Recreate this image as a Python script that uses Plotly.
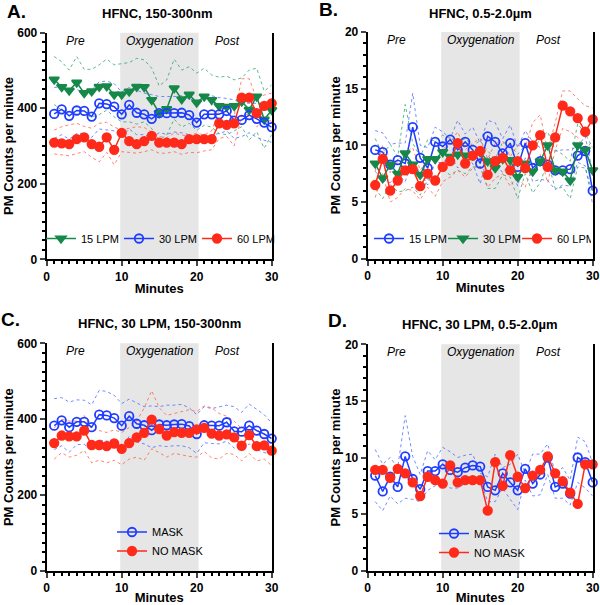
import plotly.graph_objects as go

# minutes sampled
minutes = list(range(1, 31))

# Panel A: HFNC, 150-300nm
a_15_mean = [476, 456, 447, 468, 440, 445, 457, 458, 436, 436, 444, 457, 456, 422, 387,
             398, 453, 424, 436, 415, 431, 422, 406, 404, 406, 418, 396, 431, 370, 395]
a_15_hi = [537, 523, 501, 537, 503, 503, 515, 530, 515, 519, 521, 532, 528, 506, 459,
           475, 530, 501, 510, 493, 506, 488, 482, 485, 475, 480, 501, 506, 445, 462]
a_15_lo = [410, 395, 392, 383, 383, 377, 383, 395, 377, 364, 364, 358, 364, 346, 316,
           329, 371, 350, 360, 341, 355, 350, 333, 330, 340, 351, 316, 338, 294, 330]
a_30_mean = [385, 397, 380, 394, 393, 378, 413, 411, 404, 384, 409, 388, 384, 372, 387,
             387, 387, 388, 382, 362, 384, 384, 384, 393, 367, 369, 382, 372, 362, 350]
a_30_hi = [455, 457, 448, 450, 440, 448, 470, 472, 465, 443, 455, 448, 440, 436, 431,
           431, 431, 433, 426, 418, 435, 433, 428, 426, 422, 415, 413, 413, 410, 404]
a_30_lo = [320, 330, 318, 333, 334, 323, 345, 342, 340, 325, 345, 330, 330, 322, 335,
           331, 337, 335, 330, 310, 326, 330, 333, 340, 320, 325, 335, 323, 315, 310]
a_60_mean = [309, 307, 305, 318, 323, 305, 298, 323, 290, 335, 313, 305, 313, 327, 309,
             309, 309, 305, 318, 318, 318, 318, 360, 356, 360, 428, 428, 387, 406, 413]
a_60_hi = [342, 351, 356, 360, 352, 347, 360, 363, 350, 342, 347, 351, 349, 336, 325,
           322, 334, 329, 327, 334, 329, 340, 395, 380, 380, 478, 478, 425, 435, 440]
a_60_lo = [279, 277, 274, 280, 285, 270, 258, 283, 250, 285, 283, 281, 285, 290, 281,
           281, 285, 278, 283, 282, 287, 290, 320, 325, 300, 380, 385, 350, 375, 365]

# Panel B: HFNC, 0.5-2.0um
b_15_mean = [9.6, 9.4, 8.3, 8.7, 8.4, 11.6, 8.9, 8.0, 10.3, 9.9, 10.5, 9.6, 10.3, 9.6, 8.4,
             10.8, 10.3, 9.3, 10.2, 8.1, 10.2, 8.0, 8.6, 8.3, 7.8, 7.8, 7.9, 9.1, 9.5, 6.0]
b_15_hi = [11.3, 11.1, 10.1, 10.2, 10.2, 14.6, 10.0, 9.8, 11.6, 11.2, 10.6, 12.2, 11.0, 11.6, 10.2,
           12.2, 12.0, 10.6, 11.8, 9.8, 11.3, 10.3, 9.8, 9.8, 9.5, 9.6, 9.6, 9.9, 10.8, 7.6]
b_15_lo = [7.7, 7.0, 6.7, 7.5, 6.8, 8.6, 7.6, 6.5, 8.6, 8.4, 9.2, 8.0, 9.0, 8.4, 6.6,
           9.1, 8.4, 7.6, 8.4, 6.4, 8.9, 6.8, 7.0, 6.9, 6.1, 6.5, 6.4, 8.5, 8.2, 4.8]
b_30_mean = [8.4, 7.1, 8.3, 7.5, 9.3, 8.3, 7.4, 8.8, 8.8, 9.4, 9.0, 9.2, 9.1, 9.1, 9.4,
             8.6, 8.0, 8.8, 8.7, 7.2, 8.4, 7.7, 8.6, 10.0, 7.8, 7.7, 6.9, 10.0, 9.6, 7.8]
b_30_hi = [10.6, 9.2, 10.1, 9.0, 13.6, 10.2, 9.0, 10.5, 10.4, 10.9, 10.6, 10.2, 10.6, 10.0, 10.4,
           9.5, 8.8, 10.3, 10.0, 9.2, 10.0, 9.5, 10.6, 11.2, 9.6, 9.2, 8.6, 11.9, 11.0, 9.8]
b_30_lo = [6.2, 5.3, 6.6, 5.9, 6.0, 6.3, 5.6, 7.0, 7.3, 7.8, 7.4, 7.8, 7.5, 8.1, 8.1,
           6.2, 6.2, 7.4, 7.2, 5.3, 7.5, 5.8, 6.7, 8.6, 6.2, 6.3, 5.3, 8.1, 8.0, 5.8]
b_60_mean = [6.5, 8.8, 6.0, 6.9, 7.8, 7.9, 6.4, 7.5, 6.9, 8.1, 8.6, 10.2, 8.4, 9.1, 9.5,
             7.4, 8.6, 8.9, 7.8, 8.6, 8.0, 10.0, 10.9, 8.1, 10.7, 13.5, 13.0, 12.4, 11.2, 12.3]
b_60_hi = [7.7, 10.0, 7.6, 8.6, 9.4, 9.8, 7.8, 8.8, 8.6, 9.6, 10.3, 11.2, 9.6, 10.2, 10.6,
           8.8, 10.2, 10.4, 9.0, 10.0, 9.8, 12.0, 12.7, 9.5, 12.0, 14.8, 14.8, 14.1, 13.5, 13.3]
b_60_lo = [5.4, 7.5, 5.0, 5.4, 6.2, 6.0, 5.2, 6.3, 5.5, 6.8, 7.2, 7.8, 7.2, 8.0, 8.2,
           6.3, 7.1, 7.5, 6.4, 7.3, 6.3, 8.1, 9.2, 6.7, 9.6, 11.5, 11.2, 10.7, 9.5, 10.5]

# Panel C: HFNC, 30 LPM, 150-300nm
c_mask_mean = [383, 397, 379, 393, 393, 379, 412, 410, 403, 383, 408, 388, 384, 371, 386,
               384, 386, 387, 382, 361, 384, 383, 383, 392, 368, 367, 383, 370, 361, 349]
c_mask_hi = [454, 457, 445, 451, 450, 438, 476, 473, 463, 441, 453, 443, 433, 435, 433,
             437, 437, 439, 430, 412, 433, 428, 433, 437, 433, 418, 440, 425, 412, 390]
c_mask_lo = [320, 330, 313, 333, 334, 317, 345, 342, 340, 322, 355, 340, 335, 325, 330,
             328, 330, 330, 325, 310, 338, 336, 335, 342, 324, 320, 335, 320, 312, 308]
c_nomask_mean = [337, 357, 355, 355, 370, 332, 332, 329, 336, 322, 337, 352, 364, 399, 374,
                 357, 366, 364, 364, 373, 377, 362, 357, 360, 352, 330, 358, 329, 331, 317]
c_nomask_hi = [376, 400, 395, 395, 410, 372, 370, 365, 372, 365, 378, 395, 430, 475, 430,
               410, 415, 420, 425, 420, 435, 430, 415, 408, 395, 375, 400, 370, 370, 355]
c_nomask_lo = [295, 312, 300, 305, 318, 285, 292, 285, 292, 280, 295, 300, 292, 322, 312,
               300, 310, 305, 302, 300, 315, 298, 295, 310, 307, 290, 310, 290, 295, 278]

# Panel D: HFNC, 30 LPM, 0.5-2.0um
d_mask_mean = [8.4, 7.0, 8.3, 7.4, 10.1, 8.1, 7.2, 8.8, 8.8, 9.4, 8.9, 8.7, 9.1, 9.3, 9.2,
               7.4, 7.1, 8.6, 7.8, 7.1, 9.0, 7.7, 8.5, 10.0, 7.4, 7.7, 6.8, 10.0, 9.6, 7.8]
d_mask_hi = [10.7, 9.4, 10.0, 9.1, 13.7, 10.1, 8.5, 10.6, 9.8, 10.9, 10.5, 10.0, 10.2, 10.3, 8.6,
             8.3, 10.3, 9.1, 9.4, 10.3, 8.6, 10.3, 10.3, 11.2, 8.6, 9.1, 8.0, 11.8, 11.4, 9.5]
d_mask_lo = [6.1, 5.3, 6.6, 5.9, 6.4, 6.3, 6.1, 7.1, 7.5, 7.7, 7.3, 7.3, 7.7, 8.4, 8.0,
             6.1, 6.1, 7.3, 6.3, 5.4, 8.0, 6.6, 6.7, 8.5, 6.4, 6.4, 5.8, 7.8, 7.3, 6.6]
d_nomask_mean = [8.9, 8.9, 8.2, 9.0, 8.6, 7.8, 6.6, 8.3, 8.0, 7.7, 9.3, 7.8, 8.0, 8.0, 8.0,
                 5.3, 9.6, 7.5, 10.2, 8.3, 7.3, 8.4, 8.9, 10.1, 8.6, 7.9, 6.9, 5.9, 9.4, 9.4]

BLUE = "#1f3dff"
GREEN = "#16884a"
RED = "#ff2a1a"
BAND = {BLUE: "rgba(70,100,255,0.75)", GREEN: "rgba(40,160,100,0.75)", RED: "rgba(255,90,70,0.75)"}
FONT = "Arial, Liberation Sans, sans-serif"

fig = go.Figure()


def sfx(k):
    return "" if k == 1 else str(k)


def add_series(k, y, color, symbol, name, legend):
    fig.add_trace(go.Scatter(
        x=minutes, y=y, mode="lines+markers", name=name, legend=legend,
        xaxis=f"x{sfx(k)}", yaxis=f"y{sfx(k)}", cliponaxis=False,
        line=dict(color=color, width=1.5),
        marker=dict(symbol=symbol, size=8.5, color=color, line=dict(width=1.8, color=color)),
    ))


def add_band(k, y, color):
    fig.add_trace(go.Scatter(
        x=minutes, y=y, mode="lines", showlegend=False, hoverinfo="skip",
        xaxis=f"x{sfx(k)}", yaxis=f"y{sfx(k)}",
        line=dict(color=BAND[color], width=1, dash="dot"),
    ))


# bands first so means sit on top
for hi, lo, c in [(a_15_hi, a_15_lo, GREEN), (a_30_hi, a_30_lo, BLUE), (a_60_hi, a_60_lo, RED)]:
    add_band(1, hi, c)
    add_band(1, lo, c)
add_series(1, a_15_mean, GREEN, "triangle-down", "15 LPM", "legend")
add_series(1, a_30_mean, BLUE, "circle-open", "30 LPM", "legend")
add_series(1, a_60_mean, RED, "circle", "60 LPM", "legend")

for hi, lo, c in [(b_15_hi, b_15_lo, BLUE), (b_30_hi, b_30_lo, GREEN), (b_60_hi, b_60_lo, RED)]:
    add_band(2, hi, c)
    add_band(2, lo, c)
add_series(2, b_15_mean, BLUE, "circle-open", "15 LPM", "legend2")
add_series(2, b_30_mean, GREEN, "triangle-down", "30 LPM", "legend2")
add_series(2, b_60_mean, RED, "circle", "60 LPM", "legend2")

for hi, lo, c in [(c_mask_hi, c_mask_lo, BLUE), (c_nomask_hi, c_nomask_lo, RED)]:
    add_band(3, hi, c)
    add_band(3, lo, c)
add_series(3, c_mask_mean, BLUE, "circle-open", "MASK", "legend3")
add_series(3, c_nomask_mean, RED, "circle", "NO MASK", "legend3")

add_band(4, d_mask_hi, BLUE)
add_band(4, d_mask_lo, BLUE)
add_series(4, d_mask_mean, BLUE, "circle-open", "MASK", "legend4")
add_series(4, d_nomask_mean, RED, "circle", "NO MASK", "legend4")

W, H = 600, 605
# plot boxes in pixels: (left, right, top, bottom)
boxes = {1: (46.7, 271.7, 32.7, 259.3), 2: (367.7, 592.7, 32.0, 258.7),
         3: (46.7, 271.7, 343.3, 571.0), 4: (367.7, 592.7, 344.3, 570.7)}
yinfo = {1: (600, 200, 25), 2: (20, 5, 1), 3: (600, 200, 25), 4: (20, 5, 1)}
titles = {1: ("HFNC, 150-300nm", 157, 13), 2: ("HFNC, 0.5-2.0µm", 480, 13),
          3: ("HFNC, 30 LPM, 150-300nm", 159, 323), 4: ("HFNC, 30 LPM, 0.5-2.0µm", 480, 324)}
letters = {1: ("A.", 5, 11), 2: ("B.", 317, 10), 3: ("C.", -1, 319), 4: ("D.", 326, 320)}

bold = dict(family=FONT, size=12, color="black", weight="bold")
layout = {}
for k, (l, r, t, b) in boxes.items():
    s = sfx(k)
    ymax, dt, mdt = yinfo[k]
    layout[f"xaxis{s}"] = dict(
        domain=[l / W, r / W], anchor=f"y{s}", range=[0, 30], showgrid=False, zeroline=False,
        showline=True, linecolor="black", linewidth=2, ticks="outside", ticklen=5, tickwidth=2,
        tickvals=[0, 10, 20, 30], tickfont=bold, automargin=False,
        minor=dict(ticks="outside", ticklen=3, tickwidth=1.5, dtick=1, tick0=0, tickcolor="black"),
        title=dict(text="Minutes", font=dict(family=FONT, size=13, color="black", weight="bold"), standoff=1),
    )
    layout[f"yaxis{s}"] = dict(
        domain=[1 - b / H, 1 - t / H], anchor=f"x{s}", range=[0, ymax], showgrid=False, zeroline=False,
        showline=True, mirror=True, linecolor="black", linewidth=2, ticks="outside", ticklen=5,
        tickwidth=2, dtick=dt, tickfont=bold, automargin=False,
        minor=dict(ticks="outside", ticklen=3, tickwidth=1.5, dtick=mdt, tick0=0, tickcolor="black"),
        title=dict(text="PM Counts per minute", font=dict(family=FONT, size=13, color="black", weight="bold"), standoff=1),
    )
    fig.add_shape(type="rect", xref=f"x{s}", yref=f"y{s} domain", x0=9.8, x1=20.25, y0=0, y1=1,
                  fillcolor="#e6e6e6", line_width=0, layer="below")
    for txt, xm in [("Pre", 3.9), ("Oxygenation", 15.1), ("Post", 24.1)]:
        fig.add_annotation(x=xm, y=0.965, xref=f"x{s}", yref=f"y{s} domain", text=txt, showarrow=False,
                           font=dict(family=FONT, size=12, color="black", style="italic"),
                           xanchor="center", yanchor="middle")
    ttl, tx, ty = titles[k]
    fig.add_annotation(x=tx / W, y=1 - ty / H, xref="paper", yref="paper", text=ttl, showarrow=False,
                       xanchor="center", yanchor="middle",
                       font=dict(family=FONT, size=13, color="black", weight="bold"))
    let, lx, ly = letters[k]
    fig.add_annotation(x=lx / W, y=1 - ly / H, xref="paper", yref="paper", text=let, showarrow=False,
                       xanchor="left", yanchor="middle",
                       font=dict(family=FONT, size=19, color="black", weight="bold"))

leg_font = dict(family=FONT, size=11, color="black")
layout["legend"] = dict(orientation="h", x=41 / W, y=1 - 238.5 / H, xanchor="left", yanchor="middle",
                        font=leg_font, bgcolor="rgba(0,0,0,0)", entrywidth=33, itemwidth=30)
layout["legend2"] = dict(orientation="h", x=369 / W, y=1 - 238.5 / H, xanchor="left", yanchor="middle",
                         font=leg_font, bgcolor="rgba(0,0,0,0)", entrywidth=29, itemwidth=30)
layout["legend3"] = dict(x=112 / W, y=1 - 541.5 / H, xanchor="left", yanchor="middle",
                         font=leg_font, bgcolor="rgba(0,0,0,0)", itemwidth=30, tracegroupgap=0)
layout["legend4"] = dict(x=434 / W, y=1 - 543 / H, xanchor="left", yanchor="middle",
                         font=leg_font, bgcolor="rgba(0,0,0,0)", itemwidth=30, tracegroupgap=0)

fig.update_layout(
    width=W, height=H, margin=dict(l=0, r=0, t=0, b=0, autoexpand=False),
    template="none", plot_bgcolor="white", paper_bgcolor="white",
    **layout,
)

# drop the browser's default page margin so the figure sits at the window origin
fig.write_html("out.html", config={"displayModeBar": False},
               post_script="document.body.style.margin='0';")
